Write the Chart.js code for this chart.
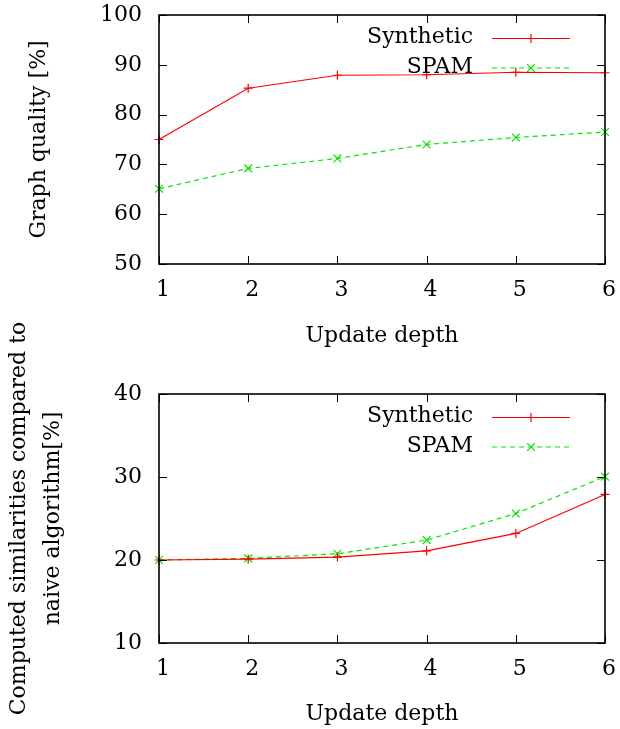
<!DOCTYPE html>
<html><head><meta charset="utf-8">
<script src="https://cdn.jsdelivr.net/npm/chart.js@4/dist/chart.umd.min.js"></script>
<style>
html,body{margin:0;padding:0;background:#fff;}
#wrap{position:relative;width:620px;height:729px;}
.box{position:absolute;left:0;width:620px;}
</style></head><body>
<div id="wrap">
<div class="box" style="top:0;height:365px"><canvas id="c1"></canvas></div>
<div class="box" style="top:280px;height:449px"><canvas id="c2"></canvas></div>
</div>
<script>
const depths = [1, 2, 3, 4, 5, 6];
const qualitySynthetic = [75.0, 85.3, 87.9, 88.0, 88.5, 88.4];
const qualitySpam = [65.1, 69.2, 71.2, 74.0, 75.4, 76.5];
const simSynthetic = [20.0, 20.1, 20.35, 21.1, 23.2, 27.9];
const simSpam = [20.0, 20.2, 20.75, 22.4, 25.6, 30.05];
const qualityTicks = [50, 60, 70, 80, 90, 100];
const simTicks = [10, 20, 30, 40];
const seriesNames = ['Synthetic', 'SPAM'];
const xTitle = 'Update depth';
const qualityTitle = 'Graph quality [%]';
const simTitle = ['Computed similarities compared to', 'naive algorithm[%]'];

const FAM = '"DejaVu Serif", "Liberation Serif", serif';
const RED = '#ff0000', GREEN = '#00e600';

function pts(vals){ return depths.map((d,i)=>({x:d, y:vals[i]})); }

function drawMarker(ctx, style, cx, cy, r){
  ctx.beginPath();
  if(style === 'cross'){
    ctx.moveTo(cx-r,cy); ctx.lineTo(cx+r,cy);
    ctx.moveTo(cx,cy-r); ctx.lineTo(cx,cy+r);
  } else {
    const o = r*Math.SQRT1_2;
    ctx.moveTo(cx-o,cy-o); ctx.lineTo(cx+o,cy+o);
    ctx.moveTo(cx-o,cy+o); ctx.lineTo(cx+o,cy-o);
  }
  ctx.stroke();
}

const framePlugin = {
  id: 'frame',
  afterDraw(chart){
    const {ctx, chartArea:a, scales:{x, y}} = chart;
    ctx.save();
    ctx.strokeStyle = '#000';
    ctx.lineWidth = 1;
    const L = 8;
    ctx.beginPath();
    x.ticks.forEach(t=>{
      const px = Math.round(x.getPixelForValue(t.value)) + 0.5;
      ctx.moveTo(px, a.bottom); ctx.lineTo(px, a.bottom - L);
      ctx.moveTo(px, a.top); ctx.lineTo(px, a.top + L);
    });
    y.ticks.forEach(t=>{
      const py = Math.round(y.getPixelForValue(t.value)) + 0.5;
      ctx.moveTo(a.left, py); ctx.lineTo(a.left + L, py);
      ctx.moveTo(a.right, py); ctx.lineTo(a.right - L, py);
    });
    ctx.stroke();
    ctx.lineWidth = 1.6;
    ctx.strokeRect(a.left, a.top, a.right - a.left, a.bottom - a.top);

    // legend
    const rows = [a.top + 23.5, a.top + 53];
    ctx.font = '22px ' + FAM;
    ctx.textAlign = 'right';
    ctx.textBaseline = 'middle';
    chart.data.datasets.forEach((ds, i)=>{
      const ly = rows[i];
      ctx.fillStyle = '#000';
      ctx.fillText(ds.label, 473, ly - 1);
      ctx.strokeStyle = ds.borderColor;
      ctx.lineWidth = ds.borderWidth;
      ctx.setLineDash(ds.borderDash || []);
      ctx.beginPath(); ctx.moveTo(492, ly); ctx.lineTo(570, ly); ctx.stroke();
      ctx.setLineDash([]);
      drawMarker(ctx, ds.pointStyle, 531, ly, ds.pointStyle === 'cross' ? 4.5 : 5.5);
    });
    ctx.restore();
  }
};

function datasets(a, b){
  return [
    {label: seriesNames[0], data: pts(a), borderColor: RED, backgroundColor: RED, borderWidth: 1.2,
     pointStyle: 'cross', pointRadius: 4.5, pointBorderWidth: 1.2, pointHoverRadius: 4.5, tension: 0, clip: 8},
    {label: seriesNames[1], data: pts(b), borderColor: GREEN, backgroundColor: GREEN, borderWidth: 1.2,
     borderDash: [5, 4], pointStyle: 'crossRot', pointRadius: 5.5, pointBorderWidth: 1.2, pointHoverRadius: 5.5, tension: 0, clip: 8}
  ];
}

function makeOptions(tickVals, yTitle, padTop, xh, xTitlePad, yTitlePad){
  const font = {family: FAM, size: 22};
  return {
    responsive: true, maintainAspectRatio: false, animation: false,
    layout: {padding: {top: padTop, right: 15, left: 0, bottom: 0}},
    plugins: {legend: {display: false}, tooltip: {enabled: false}},
    events: [],
    scales: {
      x: {
        type: 'linear', min: depths[0], max: depths[depths.length-1],
        ticks: {stepSize: 1, padding: 13, labelOffset: 4, color: '#000', font: font},
        grid: {display: false, drawTicks: false}, border: {display: false},
        title: {display: true, text: xTitle, color: '#000', font: {family: FAM, size: 22, lineHeight: 1.2}, padding: {top: 0, bottom: xTitlePad}},
        afterFit(s){ s.height = xh; s.paddingLeft = 0; s.paddingRight = 0; }
      },
      y: {
        min: tickVals[0], max: tickVals[tickVals.length-1],
        afterBuildTicks(s){ s.ticks = tickVals.map(v=>({value: v})); },
        ticks: {padding: 17, color: '#000', font: font},
        grid: {display: false, drawTicks: false}, border: {display: false},
        title: {display: true, text: yTitle, color: '#000', font: {family: FAM, size: 22, lineHeight: 34/22}, padding: {top: yTitlePad, bottom: 0}},
        afterFit(s){ s.width = 159; s.paddingTop = 0; s.paddingBottom = 0; }
      }
    }
  };
}

new Chart(document.getElementById('c1'), {
  type: 'line',
  data: {datasets: datasets(qualitySynthetic, qualitySpam)},
  options: makeOptions(qualityTicks, qualityTitle, 15, 101, 16, 22),
  plugins: [framePlugin]
});
new Chart(document.getElementById('c2'), {
  type: 'line',
  data: {datasets: datasets(simSynthetic, simSpam)},
  options: makeOptions(simTicks, simTitle, 114, 86, 2, 2),
  plugins: [framePlugin]
});
</script>
</body></html>
